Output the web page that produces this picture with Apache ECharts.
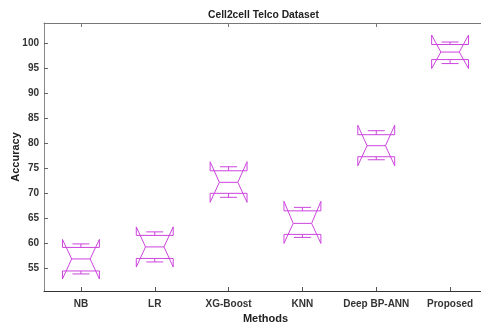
<!DOCTYPE html>
<html>
<head>
<meta charset="utf-8">
<script src="https://cdn.jsdelivr.net/npm/echarts@6/dist/echarts.min.js"></script>
<style>
html,body{margin:0;padding:0;background:#fff;}
#chart{width:481px;height:324px;}
</style>
</head>
<body>
<div id="chart"></div>
<script>
const categories = ['NB', 'LR', 'XG-Boost', 'KNN', 'Deep BP-ANN', 'Proposed'];
const whiskerLow = [53.9, 56.3, 69.2, 61.2, 76.7, 95.9];
const q1 = [54.5, 57.0, 70.0, 61.8, 77.3, 96.7];
const median = [56.9, 59.3, 72.2, 64.0, 79.5, 98.2];
const q3 = [59.2, 61.6, 74.5, 66.5, 81.7, 99.7];
const whiskerHigh = [59.9, 62.3, 75.3, 67.2, 82.5, 100.2];
const notchLow = [52.9, 55.3, 68.2, 60.0, 75.5, 94.9];
const notchHigh = [60.8, 63.3, 76.3, 68.4, 83.6, 101.6];
const yTicks = [55, 60, 65, 70, 75, 80, 85, 90, 95, 100];

const boxColor = '#cc44dd';
const fontFam = 'Liberation Sans, Arial, sans-serif';

const data = categories.map((c, i) => [i, whiskerLow[i], q1[i], median[i], q3[i], whiskerHigh[i], notchLow[i], notchHigh[i]]);

function renderItem(params, api) {
  const i = api.value(0);
  const x = api.coord([i, 0])[0];
  const band = api.size([1, 0])[0];
  const hw = band * 0.25;
  const nw = hw * 0.5;
  const cw = hw * 0.46;
  const y = k => api.coord([i, api.value(k)])[1];
  const yWl = y(1), yQ1 = y(2), yMed = y(3), yQ3 = y(4), yWh = y(5), yNl = y(6), yNh = y(7);
  const style = { stroke: boxColor, lineWidth: 1, fill: null };
  return {
    type: 'group',
    children: [
      { type: 'polygon', shape: { points: [
        [x - hw, yQ1], [x - hw, yNl], [x - nw, yMed], [x - hw, yNh], [x - hw, yQ3],
        [x + hw, yQ3], [x + hw, yNh], [x + nw, yMed], [x + hw, yNl], [x + hw, yQ1]
      ] }, style: style },
      { type: 'line', shape: { x1: x - nw, y1: yMed, x2: x + nw, y2: yMed }, style: style },
      { type: 'line', shape: { x1: x, y1: yQ3, x2: x, y2: yWh }, style: style },
      { type: 'line', shape: { x1: x - cw, y1: yWh, x2: x + cw, y2: yWh }, style: style },
      { type: 'line', shape: { x1: x, y1: yQ1, x2: x, y2: yWl }, style: style },
      { type: 'line', shape: { x1: x - cw, y1: yWl, x2: x + cw, y2: yWl }, style: style }
    ]
  };
}

const chart = echarts.init(document.getElementById('chart'), null, { renderer: 'canvas' });
chart.setOption({
  animation: false,
  backgroundColor: '#ffffff',
  title: {
    text: 'Cell2cell Telco Dataset',
    left: 203, top: 5,
    textStyle: { fontFamily: fontFam, fontSize: 10.3, fontWeight: 'bold', color: '#222' }
  },
  grid: { left: 44, right: -6, top: 23, bottom: 33, containLabel: false, outerBoundsMode: 'none' },
  xAxis: [{
    type: 'category', data: categories, position: 'bottom',
    name: 'Methods', nameLocation: 'middle', nameGap: 21,
    nameTextStyle: { fontFamily: fontFam, fontSize: 11, fontWeight: 'bold', color: '#222' },
    axisLine: { lineStyle: { color: '#333', width: 1 } },
    axisTick: { show: true, inside: true, alignWithLabel: true, length: 4, lineStyle: { color: '#555' } },
    axisLabel: { interval: 0, fontFamily: fontFam, fontSize: 10, fontWeight: 'bold', color: '#333', margin: 8 },
    splitLine: { show: false }
  }, {
    type: 'category', data: categories, position: 'top',
    axisLine: { lineStyle: { color: '#777', width: 1 } },
    axisTick: { show: true, inside: true, alignWithLabel: true, length: 4, lineStyle: { color: '#777' } },
    axisLabel: { show: false },
    splitLine: { show: false }
  }],
  yAxis: {
    type: 'value', min: 50.5, max: 104,
    name: 'Accuracy', nameLocation: 'middle', nameGap: 23, nameMoveOverlap: false,
    nameTextStyle: { fontFamily: fontFam, fontSize: 11, fontWeight: 'bold', color: '#222' },
    axisLine: { show: true, lineStyle: { color: '#888', width: 1 } },
    axisTick: { show: true, inside: true, length: 4, customValues: yTicks, lineStyle: { color: '#666' } },
    axisLabel: { customValues: yTicks, fontFamily: fontFam, fontSize: 10, fontWeight: 'bold', color: '#333', margin: 5 },
    splitLine: { show: false }
  },
  series: [{
    type: 'custom',
    renderItem: renderItem,
    encode: { x: 0, y: [1, 2, 3, 4, 5, 6, 7] },
    data: data,
    silent: true
  }]
});
</script>
</body>
</html>
